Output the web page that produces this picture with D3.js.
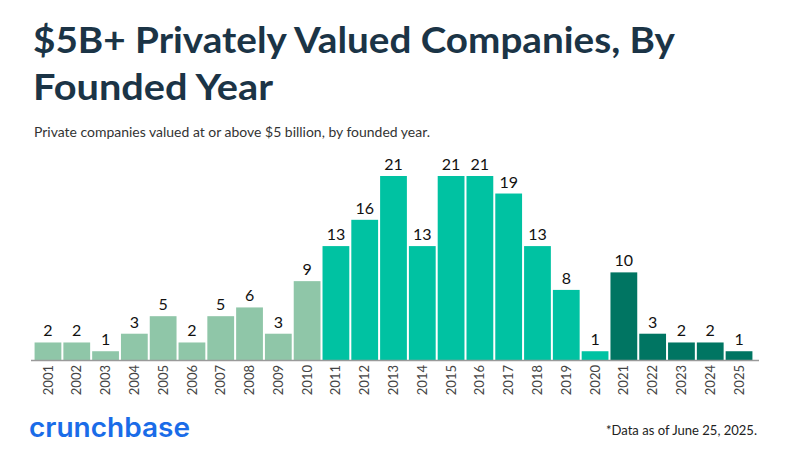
<!DOCTYPE html>
<html>
<head>
<meta charset="utf-8">
<script src="https://cdn.jsdelivr.net/npm/d3@7"></script>
<style>
  body { margin: 0; background: #fff; }
  svg { display: block; font-family: "Lato", "Open Sans", sans-serif; }
</style>
</head>
<body>
<svg id="chart" width="794" height="474"></svg>
<script>
// data
const years = ['2001','2002','2003','2004','2005','2006','2007','2008','2009','2010',
  '2011','2012','2013','2014','2015','2016','2017','2018','2019','2020',
  '2021','2022','2023','2024','2025'];
const counts = [2,2,1,3,5,2,5,6,3,9, 13,16,21,13,21,21,19,13,8,1, 10,3,2,2,1];
const groups = ['a','a','a','a','a','a','a','a','a','a',
  'b','b','b','b','b','b','b','b','b','b',
  'c','c','c','c','c'];

const groupColor = { a: '#8fc6a8', b: '#00c2a2', c: '#007562' };

const svg = d3.select('#chart');

// titles
svg.append('text')
  .attr('x', 33).attr('y', 53)
  .attr('font-size', 37).attr('font-weight', 700)
  .attr('fill', '#1b3446')
  .attr('textLength', 642).attr('lengthAdjust', 'spacingAndGlyphs')
  .text('$5B+ Privately Valued Companies, By');
svg.append('text')
  .attr('x', 33).attr('y', 100)
  .attr('font-size', 37).attr('font-weight', 700)
  .attr('fill', '#1b3446')
  .attr('textLength', 240).attr('lengthAdjust', 'spacingAndGlyphs')
  .text('Founded Year');
svg.append('text')
  .attr('x', 34).attr('y', 137)
  .attr('font-size', 13.5).attr('fill', '#333')
  .attr('textLength', 396).attr('lengthAdjust', 'spacingAndGlyphs')
  .text('Private companies valued at or above $5 billion, by founded year.');

// scales
const x = d3.scaleBand().domain(years).range([34, 753]).paddingInner(0.07).paddingOuter(0.02);
const y = d3.scaleLinear().domain([0, 21]).range([360, 176]);

const g = svg.append('g');

g.selectAll('rect.bar')
  .data(years)
  .enter()
  .append('rect')
    .attr('class', 'bar')
    .attr('x', d => x(d))
    .attr('width', x.bandwidth())
    .attr('y', (d, i) => y(counts[i]))
    .attr('height', (d, i) => y(0) - y(counts[i]))
    .attr('fill', (d, i) => groupColor[groups[i]]);

g.selectAll('text.val')
  .data(years)
  .enter()
  .append('text')
    .attr('class', 'val')
    .attr('x', d => x(d) + x.bandwidth() / 2)
    .attr('y', (d, i) => y(counts[i]) - 6)
    .attr('text-anchor', 'middle')
    .attr('font-size', 16)
    .attr('fill', '#111')
    .text((d, i) => counts[i]);

// baseline
svg.append('line')
  .attr('x1', 31).attr('x2', 759)
  .attr('y1', y(0) + 0.5).attr('y2', y(0) + 0.5)
  .attr('stroke', '#9a9a9a').attr('stroke-width', 1.5);

// rotated year labels
const xAxis = svg.append('g')
  .attr('transform', 'translate(0,' + y(0) + ')')
  .call(d3.axisBottom(x).tickSize(0).tickPadding(0));
xAxis.select('.domain').remove();
xAxis.selectAll('text')
  .attr('transform', 'rotate(-90)')
  .attr('text-anchor', 'end')
  .attr('x', -5)
  .attr('y', 0)
  .attr('dy', '0.35em')
  .attr('font-size', 13)
  .attr('font-family', '"Lato", "Open Sans", sans-serif')
  .attr('fill', '#444');

// footer
svg.append('text')
  .attr('x', 29).attr('y', 437)
  .attr('font-size', 27).attr('font-weight', 600)
  .attr('fill', '#1a6ce8')
  .attr('font-family', '"Inter", "Noto Sans", sans-serif')
  .attr('textLength', 161).attr('lengthAdjust', 'spacingAndGlyphs')
  .text('crunchbase');
svg.append('text')
  .attr('x', 757).attr('y', 435)
  .attr('text-anchor', 'end')
  .attr('font-size', 13).attr('fill', '#222')
  .attr('textLength', 151).attr('lengthAdjust', 'spacingAndGlyphs')
  .text('*Data as of June 25, 2025.');
</script>
</body>
</html>
